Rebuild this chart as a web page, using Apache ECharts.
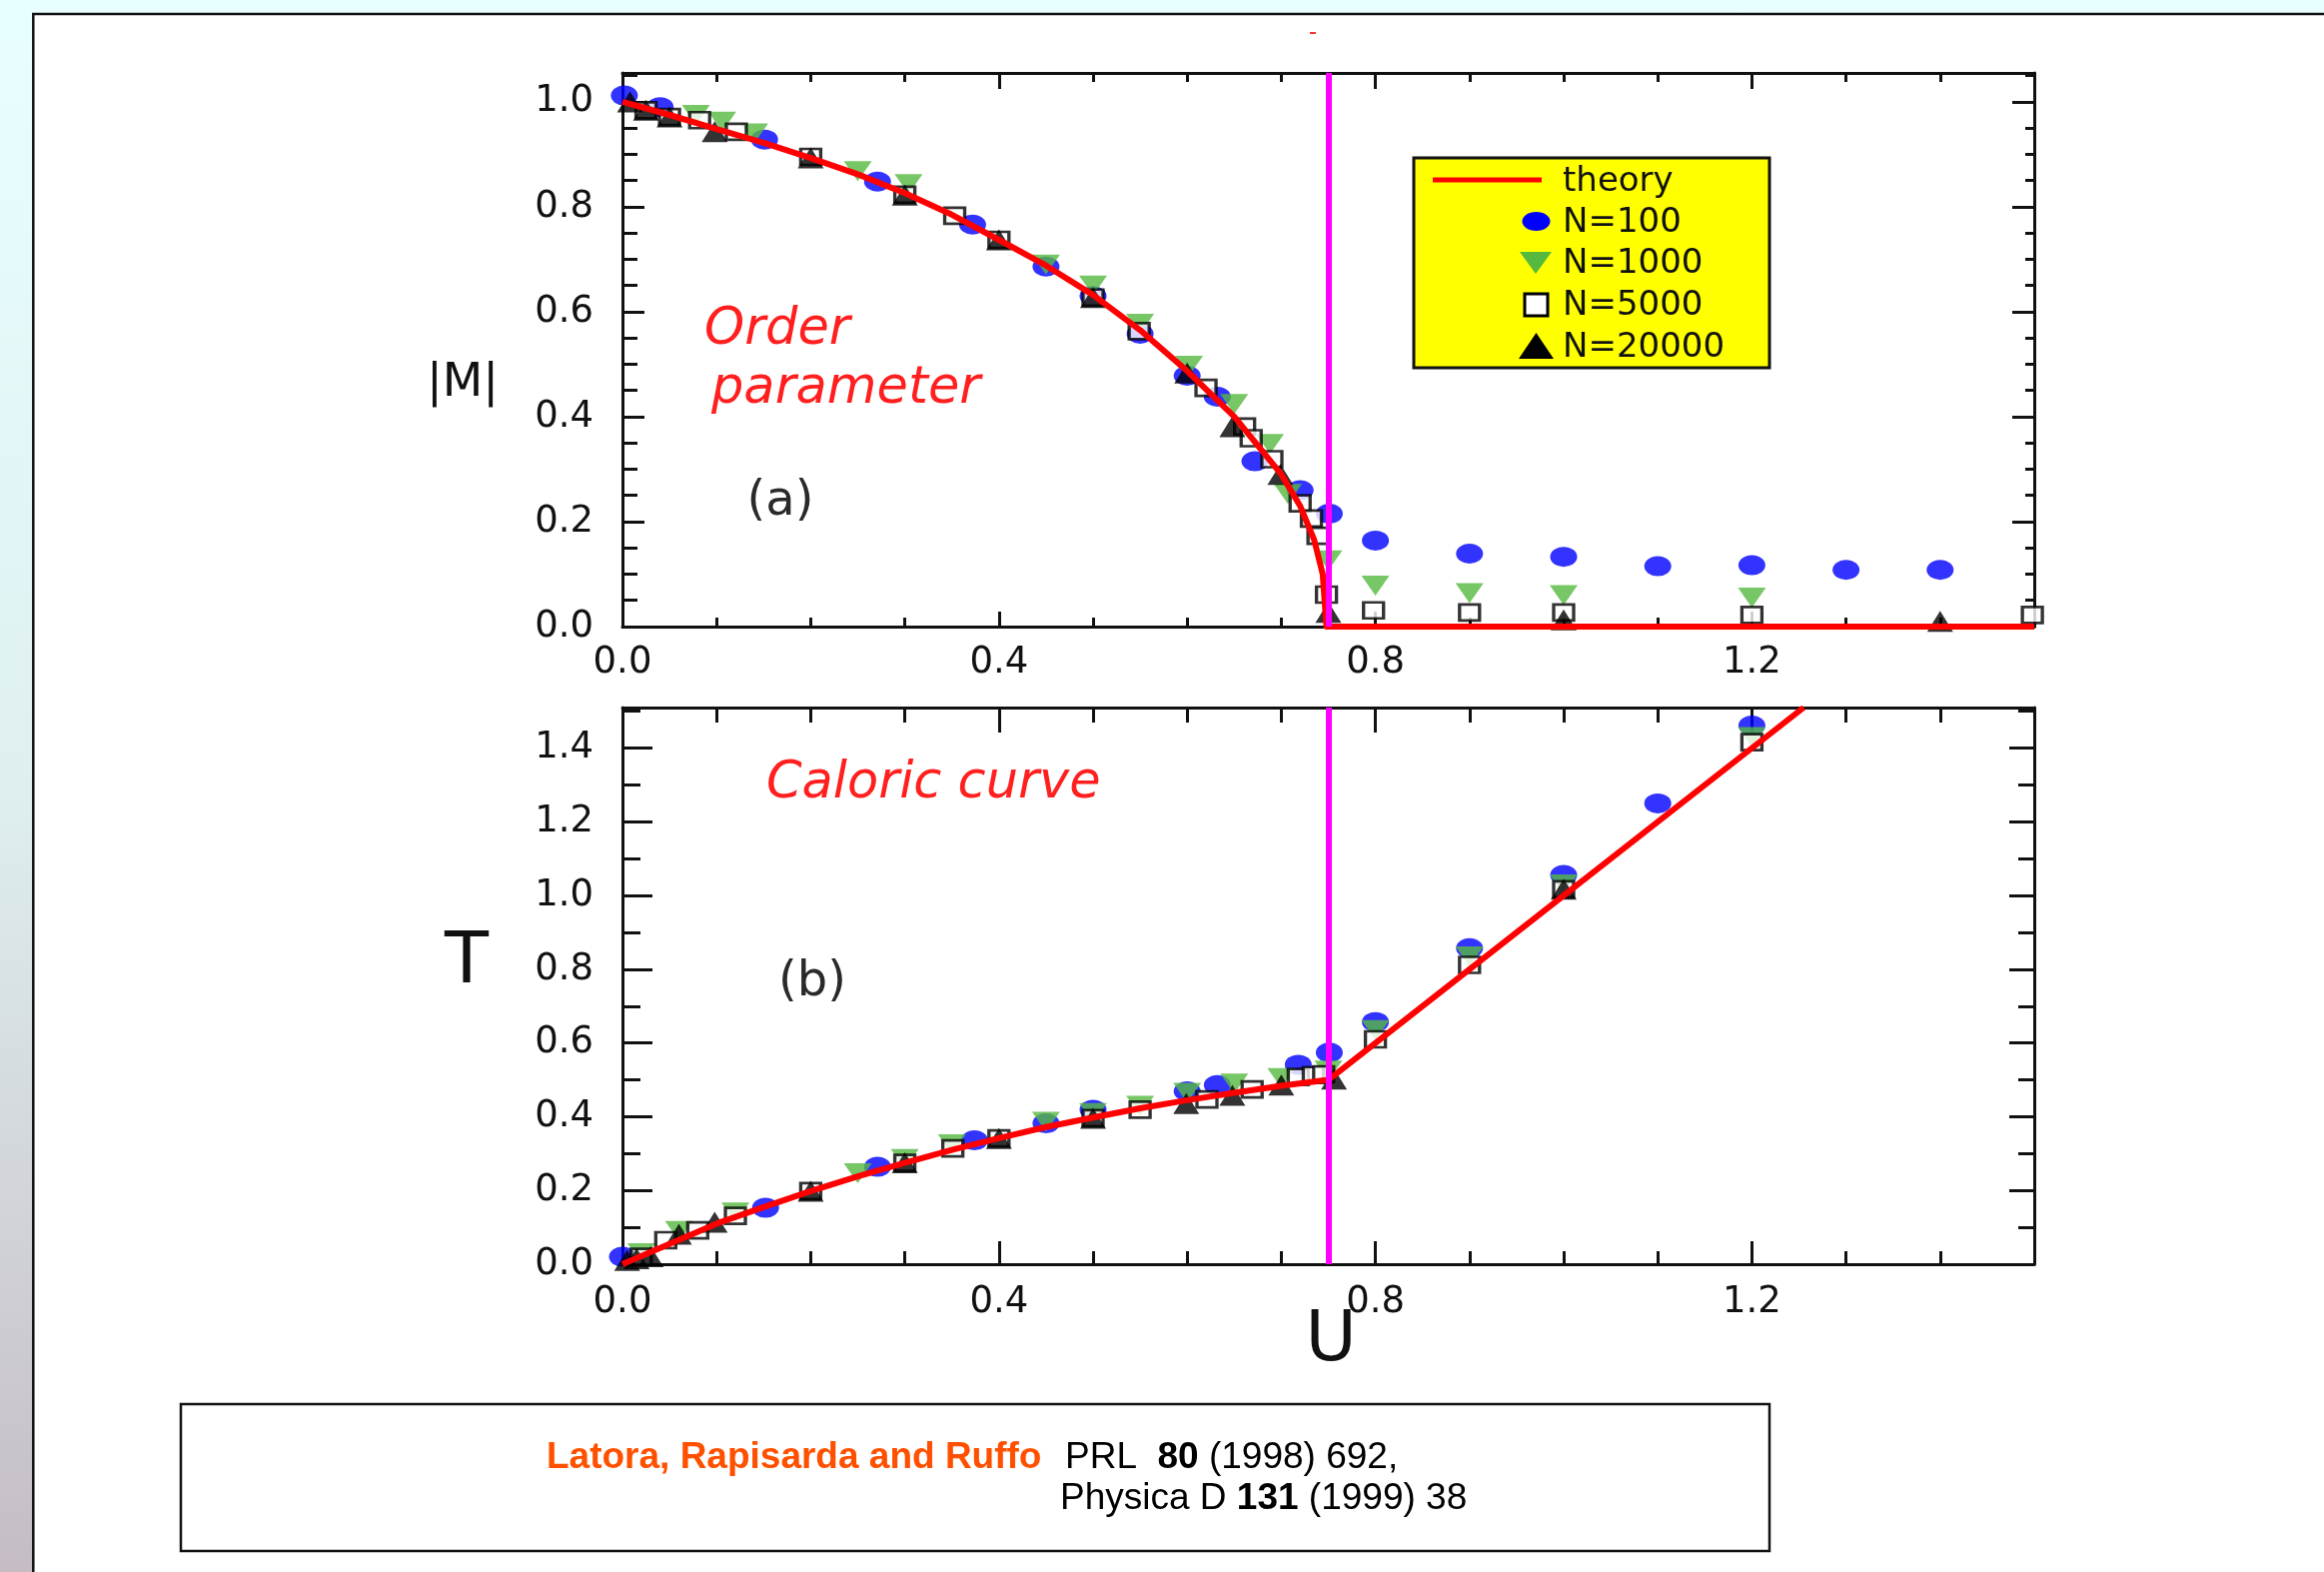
<!DOCTYPE html>
<html>
<head>
<meta charset="utf-8">
<title>Order parameter and caloric curve</title>
<script src="https://cdn.jsdelivr.net/npm/echarts@6.0.0/dist/echarts.min.js"></script>
<style>
  html, body { margin: 0; padding: 0; }
  #chart { width: 2326px; height: 1573px; }
</style>
</head>
<body>
<div id="chart"></div>
<script>
// values: [U, value]
const uCritical = 0.752;

// (a) order parameter |M|
const magTheory = [[0, 1.0], [0.05, 0.975], [0.1, 0.948], [0.15, 0.922], [0.2, 0.893], [0.25, 0.862], [0.3, 0.826],
  [0.35, 0.785], [0.4, 0.737], [0.45, 0.688], [0.5, 0.632], [0.55, 0.565], [0.6, 0.487], [0.65, 0.4], [0.7, 0.29],
  [0.72, 0.23], [0.735, 0.165], [0.744, 0.1], [0.748, 0], [1.5, 0]];
const magN100 = [[0.002, 1.012], [0.04, 0.99], [0.151, 0.928], [0.271, 0.848], [0.372, 0.766], [0.45, 0.686], [0.5, 0.63],
  [0.55, 0.558], [0.6, 0.478], [0.632, 0.438], [0.672, 0.315], [0.72, 0.26], [0.751, 0.215], [0.8, 0.164], [0.9, 0.139],
  [1.0, 0.133], [1.1, 0.115], [1.2, 0.117], [1.3, 0.108], [1.4, 0.108]];
const magN1000 = [[0.078, 0.975], [0.106, 0.962], [0.14, 0.94], [0.25, 0.868], [0.304, 0.843], [0.45, 0.69], [0.5, 0.65],
  [0.55, 0.577], [0.602, 0.497], [0.65, 0.424], [0.688, 0.348], [0.707, 0.253], [0.75, 0.126], [0.8, 0.078], [0.9, 0.064],
  [1.0, 0.06], [1.2, 0.055]];
const magN5000 = [[0.025, 0.984], [0.05, 0.971], [0.082, 0.965], [0.121, 0.943], [0.2, 0.895], [0.3, 0.823], [0.353, 0.783],
  [0.4, 0.737], [0.5, 0.627], [0.549, 0.563], [0.62, 0.455], [0.661, 0.381], [0.668, 0.359], [0.69, 0.319], [0.72, 0.235],
  [0.732, 0.206], [0.739, 0.173], [0.748, 0.061], [0.798, 0.031], [0.9, 0.027], [1.0, 0.027], [1.2, 0.022], [1.498, 0.022]];
const magN20000 = [[0.008, 1.0], [0.025, 0.984], [0.05, 0.971], [0.098, 0.943], [0.2, 0.893], [0.3, 0.822], [0.4, 0.737],
  [0.5, 0.627], [0.6, 0.483], [0.648, 0.381], [0.699, 0.29], [0.75, 0.027], [1.0, 0.013], [1.4, 0.01]];

// (b) caloric curve T
const tempTheory = [[0, 0], [0.05, 0.055], [0.1, 0.11], [0.15, 0.155], [0.2, 0.198], [0.25, 0.238], [0.3, 0.275],
  [0.35, 0.31], [0.4, 0.342], [0.45, 0.372], [0.5, 0.398], [0.55, 0.423], [0.6, 0.445], [0.65, 0.465], [0.7, 0.484],
  [0.75, 0.5], [1.0, 1.0], [1.255, 1.51]];
const tempN100 = [[0.0, 0.02], [0.152, 0.153], [0.271, 0.264], [0.374, 0.336], [0.45, 0.382], [0.5, 0.419], [0.6, 0.469],
  [0.632, 0.486], [0.718, 0.541], [0.751, 0.574], [0.8, 0.657], [0.9, 0.857], [1.0, 1.056], [1.1, 1.25], [1.2, 1.461]];
const tempN1000 = [[0.02, 0.03], [0.06, 0.09], [0.12, 0.14], [0.25, 0.247], [0.3, 0.285], [0.35, 0.325], [0.45, 0.386],
  [0.5, 0.41], [0.55, 0.43], [0.6, 0.465], [0.65, 0.49], [0.7, 0.505], [0.75, 0.525], [0.8, 0.635], [0.9, 0.835],
  [1.0, 1.03], [1.2, 1.43]];
const tempN5000 = [[0.02, 0.02], [0.046, 0.065], [0.08, 0.092], [0.12, 0.131], [0.2, 0.198], [0.3, 0.275], [0.351, 0.314],
  [0.4, 0.341], [0.5, 0.396], [0.55, 0.419], [0.621, 0.447], [0.669, 0.474], [0.718, 0.508], [0.734, 0.513], [0.745, 0.515],
  [0.8, 0.61], [0.9, 0.812], [1.0, 1.017], [1.2, 1.416]];
const tempN20000 = [[0.005, 0.01], [0.015, 0.015], [0.03, 0.02], [0.06, 0.081], [0.098, 0.114], [0.2, 0.198], [0.3, 0.275],
  [0.4, 0.341], [0.5, 0.396], [0.599, 0.436], [0.648, 0.458], [0.7, 0.486], [0.756, 0.502], [1.0, 1.017]];

const FONT = 'DejaVu Sans';
const INK = '#111';

const chart = echarts.init(document.getElementById('chart'));

// label only on multiples of the major step
const stepLabel = (step) => (v) => Math.abs(v / step - Math.round(v / step)) < 1e-6 ? v.toFixed(1) : '';

// one axis: major (with line) or minor (ticks only)
const makeAxis = (gridIndex, position, max, interval, tickLen, withLine, label) => ({
  gridIndex: gridIndex,
  type: 'value',
  position: position,
  min: 0,
  max: max,
  interval: interval,
  splitLine: { show: false },
  axisLine: { show: withLine, onZero: false, lineStyle: { color: INK, width: 3 } },
  axisTick: { show: true, inside: true, length: tickLen, lineStyle: { color: INK, width: 3 } },
  axisLabel: label ? {
    show: true, margin: label.margin, formatter: stepLabel(interval),
    fontFamily: FONT, fontSize: 37, color: INK
  } : { show: false }
});

const xAxes = [
  // grid 0
  makeAxis(0, 'bottom', 1.5, 0.4, 15, true, { margin: 18 }),
  makeAxis(0, 'bottom', 1.5, 0.1, 9, false),
  makeAxis(0, 'top', 1.5, 0.4, 16, true),
  makeAxis(0, 'top', 1.5, 0.1, 9, false),
  // grid 1
  makeAxis(1, 'bottom', 1.5, 0.4, 23, true, { margin: 20 }),
  makeAxis(1, 'bottom', 1.5, 0.1, 13, false),
  makeAxis(1, 'top', 1.5, 0.4, 25, true),
  makeAxis(1, 'top', 1.5, 0.1, 15, false)
];
const yAxes = [
  makeAxis(0, 'left', 1.055, 0.2, 22, true, { margin: 29 }),
  makeAxis(0, 'left', 1.055, 0.05, 15, false),
  makeAxis(0, 'right', 1.055, 0.2, 22, true),
  makeAxis(0, 'right', 1.055, 0.05, 9, false),
  makeAxis(1, 'left', 1.51, 0.2, 30, true, { margin: 29 }),
  makeAxis(1, 'left', 1.51, 0.1, 18, false),
  makeAxis(1, 'right', 1.51, 0.2, 25, true),
  makeAxis(1, 'right', 1.51, 0.1, 16, false)
];

const markerStyles = {
  n100: { symbol: 'circle', symbolSize: [27, 20], itemStyle: { color: '#0000ff' } },
  n1000: { symbol: 'triangle', symbolRotate: 180, symbolSize: [28, 20], itemStyle: { color: '#55b940' } },
  n5000: { symbol: 'rect', symbolSize: [20, 16], itemStyle: { color: '#ffffff', borderColor: '#000', borderWidth: 3 } },
  n20000: { symbol: 'triangle', symbolSize: [26, 21], itemStyle: { color: '#000000' } }
};

const scatter = (name, data, xi, yi, style) => Object.assign({
  name: name, type: 'scatter', xAxisIndex: xi, yAxisIndex: yi, data: data,
  clip: false, silent: true, emphasis: { disabled: true }
}, style);

const theory = (data, xi, yi) => ({
  name: 'theory', type: 'line', xAxisIndex: xi, yAxisIndex: yi, data: data,
  showSymbol: false, symbol: 'none', silent: true,
  lineStyle: { color: '#ff0000', width: 6, join: 'round' }
});

const criticalLine = (xi, yi) => ({
  type: 'line', xAxisIndex: xi, yAxisIndex: yi, data: [], z: 10, silent: true,
  markLine: {
    silent: true, symbol: ['none', 'none'], label: { show: false },
    lineStyle: { color: '#ff00ff', width: 6, type: 'solid' },
    emphasis: { disabled: true },
    data: [{ xAxis: uCritical }]
  }
});

const text = (str, x, y, size, extra) => Object.assign({
  type: 'text', z: 100, silent: true,
  style: Object.assign({
    text: str, x: x, y: y, fontFamily: FONT, fontSize: size, fill: INK,
    align: 'center', textAlign: 'center', verticalAlign: 'middle', textVerticalAlign: 'middle'
  }, extra || {})
});

const redItalic = { fill: '#ff1f1f', fontStyle: 'italic', align: 'left', textAlign: 'left' };
const leftAlign = { align: 'left', textAlign: 'left' };

const graphics = [
  // page background
  {
    type: 'rect', z: -100, silent: true, shape: { x: 0, y: 0, width: 2326, height: 1573 },
    style: {
      fill: new echarts.graphic.LinearGradient(0, 0, 0, 1, [
        { offset: 0, color: '#e8ffff' }, { offset: 0.5, color: '#dfeff0' }, { offset: 1, color: '#c5bcc5' }
      ])
    }
  },
  { type: 'rect', z: -99, silent: true, shape: { x: 34, y: 15, width: 2300, height: 1600 }, style: { fill: '#ffffff' } },
  {
    type: 'polyline', z: -98, silent: true, shape: { points: [[33.3, 1573], [33.3, 14], [2326, 14]] },
    style: { stroke: '#111', lineWidth: 2.5, fill: null }
  },
  { type: 'rect', z: 100, silent: true, shape: { x: 1311, y: 32, width: 6, height: 2 }, style: { fill: '#ff3030' } },

  // legend
  {
    type: 'rect', z: 100, silent: true, shape: { x: 1415, y: 158, width: 356, height: 210 },
    style: { fill: '#ffff00', stroke: '#111', lineWidth: 3 }
  },
  { type: 'line', z: 101, silent: true, shape: { x1: 1434, y1: 180, x2: 1543, y2: 180 }, style: { stroke: '#ff0000', lineWidth: 5 } },
  { type: 'ellipse', z: 101, silent: true, shape: { cx: 1537.5, cy: 221.5, rx: 14, ry: 9.5 }, style: { fill: '#0000ff' } },
  { type: 'polygon', z: 101, silent: true, shape: { points: [[1521, 252], [1553, 252], [1537, 274]] }, style: { fill: '#55b940' } },
  { type: 'rect', z: 101, silent: true, shape: { x: 1526, y: 294, width: 23, height: 22 }, style: { fill: '#fff', stroke: '#000', lineWidth: 3 } },
  { type: 'polygon', z: 101, silent: true, shape: { points: [[1520, 359], [1555, 359], [1537.5, 333]] }, style: { fill: '#000' } },
  text('theory', 1564, 182, 34, leftAlign),
  text('N=100', 1564, 223, 34, leftAlign),
  text('N=1000', 1564, 264.5, 34, leftAlign),
  text('N=5000', 1564, 306.5, 34, leftAlign),
  text('N=20000', 1564, 348, 34, leftAlign),

  // axis titles and annotations
  text('|M|', 463, 384, 47),
  text('T', 467, 964, 72),
  text('U', 1332, 1343, 70),
  text('(a)', 781, 503, 48, { fill: '#2a2a2a' }),
  text('(b)', 813, 984, 48, { fill: '#2a2a2a' }),
  text('Order', 705, 331, 51, redItalic),
  text('parameter', 712, 390, 51, redItalic),
  text('Caloric curve', 767, 785, 51, redItalic),

  // reference box
  {
    type: 'rect', z: 100, silent: true, shape: { x: 181, y: 1405, width: 1590, height: 147 },
    style: { fill: '#ffffff', stroke: '#111', lineWidth: 2.5 }
  },
  text('Latora, Rapisarda and Ruffo', 547, 1459, 37, {
    fontFamily: 'Liberation Sans', fontWeight: 'bold', fill: '#ff5000', align: 'left', textAlign: 'left'
  }),
  text('{n|PRL  }{b|80}{n| (1998) 692,}', 1066, 1459, 37, {
    fontFamily: 'Liberation Sans', fill: '#000', align: 'left', textAlign: 'left',
    rich: {
      n: { fontFamily: 'Liberation Sans', fontSize: 37, fill: '#000' },
      b: { fontFamily: 'Liberation Sans', fontSize: 37, fontWeight: 'bold', fill: '#000' }
    }
  }),
  text('{n|Physica D }{b|131}{n| (1999) 38}', 1061, 1500, 37, {
    fontFamily: 'Liberation Sans', fill: '#000', align: 'left', textAlign: 'left',
    rich: {
      n: { fontFamily: 'Liberation Sans', fontSize: 37, fill: '#000' },
      b: { fontFamily: 'Liberation Sans', fontSize: 37, fontWeight: 'bold', fill: '#000' }
    }
  })
];

const option = {
  animation: false,
  backgroundColor: 'transparent',
  textStyle: { fontFamily: FONT },
  grid: [
    { left: 623, top: 73, width: 1413, height: 554, outerBoundsMode: 'none', containLabel: false },
    { left: 623, top: 708, width: 1413, height: 557, outerBoundsMode: 'none', containLabel: false }
  ],
  xAxis: xAxes,
  yAxis: yAxes,
  series: [
    theory(magTheory, 0, 0),
    scatter('N=100', magN100, 0, 0, markerStyles.n100),
    scatter('N=1000', magN1000, 0, 0, markerStyles.n1000),
    scatter('N=5000', magN5000, 0, 0, markerStyles.n5000),
    scatter('N=20000', magN20000, 0, 0, markerStyles.n20000),
    criticalLine(0, 0),

    theory(tempTheory, 4, 4),
    scatter('N=100', tempN100, 4, 4, markerStyles.n100),
    scatter('N=1000', tempN1000, 4, 4, markerStyles.n1000),
    scatter('N=5000', tempN5000, 4, 4, markerStyles.n5000),
    scatter('N=20000', tempN20000, 4, 4, markerStyles.n20000),
    criticalLine(4, 4)
  ],
  graphic: { elements: graphics }
};

chart.setOption(option);
</script>
</body>
</html>
